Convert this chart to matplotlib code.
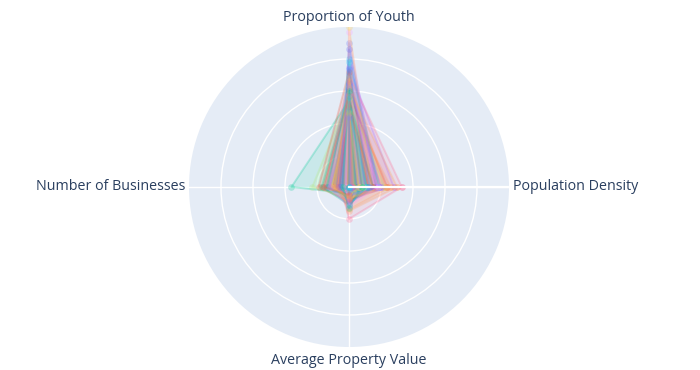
import numpy as np
import matplotlib
matplotlib.use("Agg")
import matplotlib.pyplot as plt

# ── data (normalised 0-1), one entry per area ───────────────────────────────
axis_labels = ["Population Density", "Proportion of Youth",
               "Number of Businesses", "Average Property Value"]

pop_density = [0.18, 0.24, 0.15, 0.28, 0.30, 0.19, 0.33, 0.22, 0.16, 0.14,
               0.17, 0.12, 0.11, 0.10, 0.26, 0.09, 0.08, 0.13, 0.07, 0.06,
               0.05, 0.15, 0.04, 0.20, 0.03, 0.11, 0.02, 0.09, 0.18, 0.06,
               0.13, 0.00, 0.08, 0.01, 0.23, 0.00]
youth = [0.90, 0.58, 0.54, 0.75, 0.62, 0.80, 0.70, 0.56, 0.97, 1.00,
         0.86, 0.72, 0.60, 0.65, 0.52, 0.78, 0.68, 0.63, 0.57, 0.55,
         0.61, 0.50, 0.59, 0.64, 0.56, 0.48, 0.53, 0.69, 0.58, 0.46,
         0.74, 0.57, 0.60, 0.44, 0.66, 0.56]
businesses = [0.04, 0.10, 0.36, 0.03, 0.08, 0.06, 0.05, 0.23, 0.02, 0.01,
              0.05, 0.19, 0.17, 0.13, 0.07, 0.09, 0.15, 0.11, 0.12, 0.10,
              0.08, 0.06, 0.14, 0.04, 0.09, 0.05, 0.07, 0.03, 0.02, 0.11,
              0.06, 0.16, 0.04, 0.12, 0.09, 0.00]
property_value = [0.03, 0.08, 0.04, 0.06, 0.15, 0.05, 0.20, 0.07, 0.02, 0.01,
                  0.10, 0.09, 0.11, 0.12, 0.14, 0.06, 0.05, 0.08, 0.04, 0.10,
                  0.07, 0.09, 0.06, 0.05, 0.03, 0.11, 0.08, 0.04, 0.12, 0.06,
                  0.02, 0.05, 0.13, 0.09, 0.07, 0.01]

palette = ["#636efa", "#EF553B", "#00cc96", "#ab63fa", "#FFA15A",
           "#19d3f3", "#FF6692", "#B6E880", "#FF97FF", "#FECB52"]

# ─────────────────────────────────────────────────────────────────────────────

W, H = 700, 370
cx, cy, R = 349, 187, 160

fig = plt.figure(figsize=(W / 100, H / 100), dpi=100)
ax = fig.add_axes([(cx - R) / W, (H - cy - R) / H, 2 * R / W, 2 * R / H],
                  projection="polar")
ax.set_facecolor("#E5ECF6")
ax.spines["polar"].set_visible(False)
ax.set_ylim(0, 1)

theta = np.array([0, np.pi / 2, np.pi, 3 * np.pi / 2, 0])

for i in range(len(youth)):
    r = [pop_density[i], youth[i], businesses[i], property_value[i], pop_density[i]]
    c = palette[i % len(palette)]
    ax.fill(theta, r, color=c, alpha=0.12, lw=0, zorder=2)
    ax.plot(theta, r, color=c, alpha=0.26, lw=1.4, zorder=3,
            marker="o", ms=4.8, mew=0)

ax.set_yticks([0.2, 0.4, 0.6, 0.8])
ax.set_yticklabels([])
ax.set_xticks(theta[:4])
ax.set_xticklabels([])
ax.grid(True, color="white", lw=1)
ax.set_axisbelow(True)
ax.tick_params(length=0)

# radial axis line, drawn above the traces
ax.plot([0, 0], [0, 1], color="white", lw=1.6, zorder=5)

lab = dict(color="#2a3f5f", fontsize=10.3, family=["Open Sans", "DejaVu Sans"])
ax.text(0, 1.025, axis_labels[0], ha="left", va="center", **lab)
ax.text(np.pi / 2, 1.015, axis_labels[1], ha="center", va="bottom", **lab)
ax.text(np.pi, 1.025, axis_labels[2], ha="right", va="center", **lab)
ax.text(3 * np.pi / 2, 1.04, axis_labels[3], ha="center", va="top", **lab)

fig.savefig("out.png", dpi=100)
